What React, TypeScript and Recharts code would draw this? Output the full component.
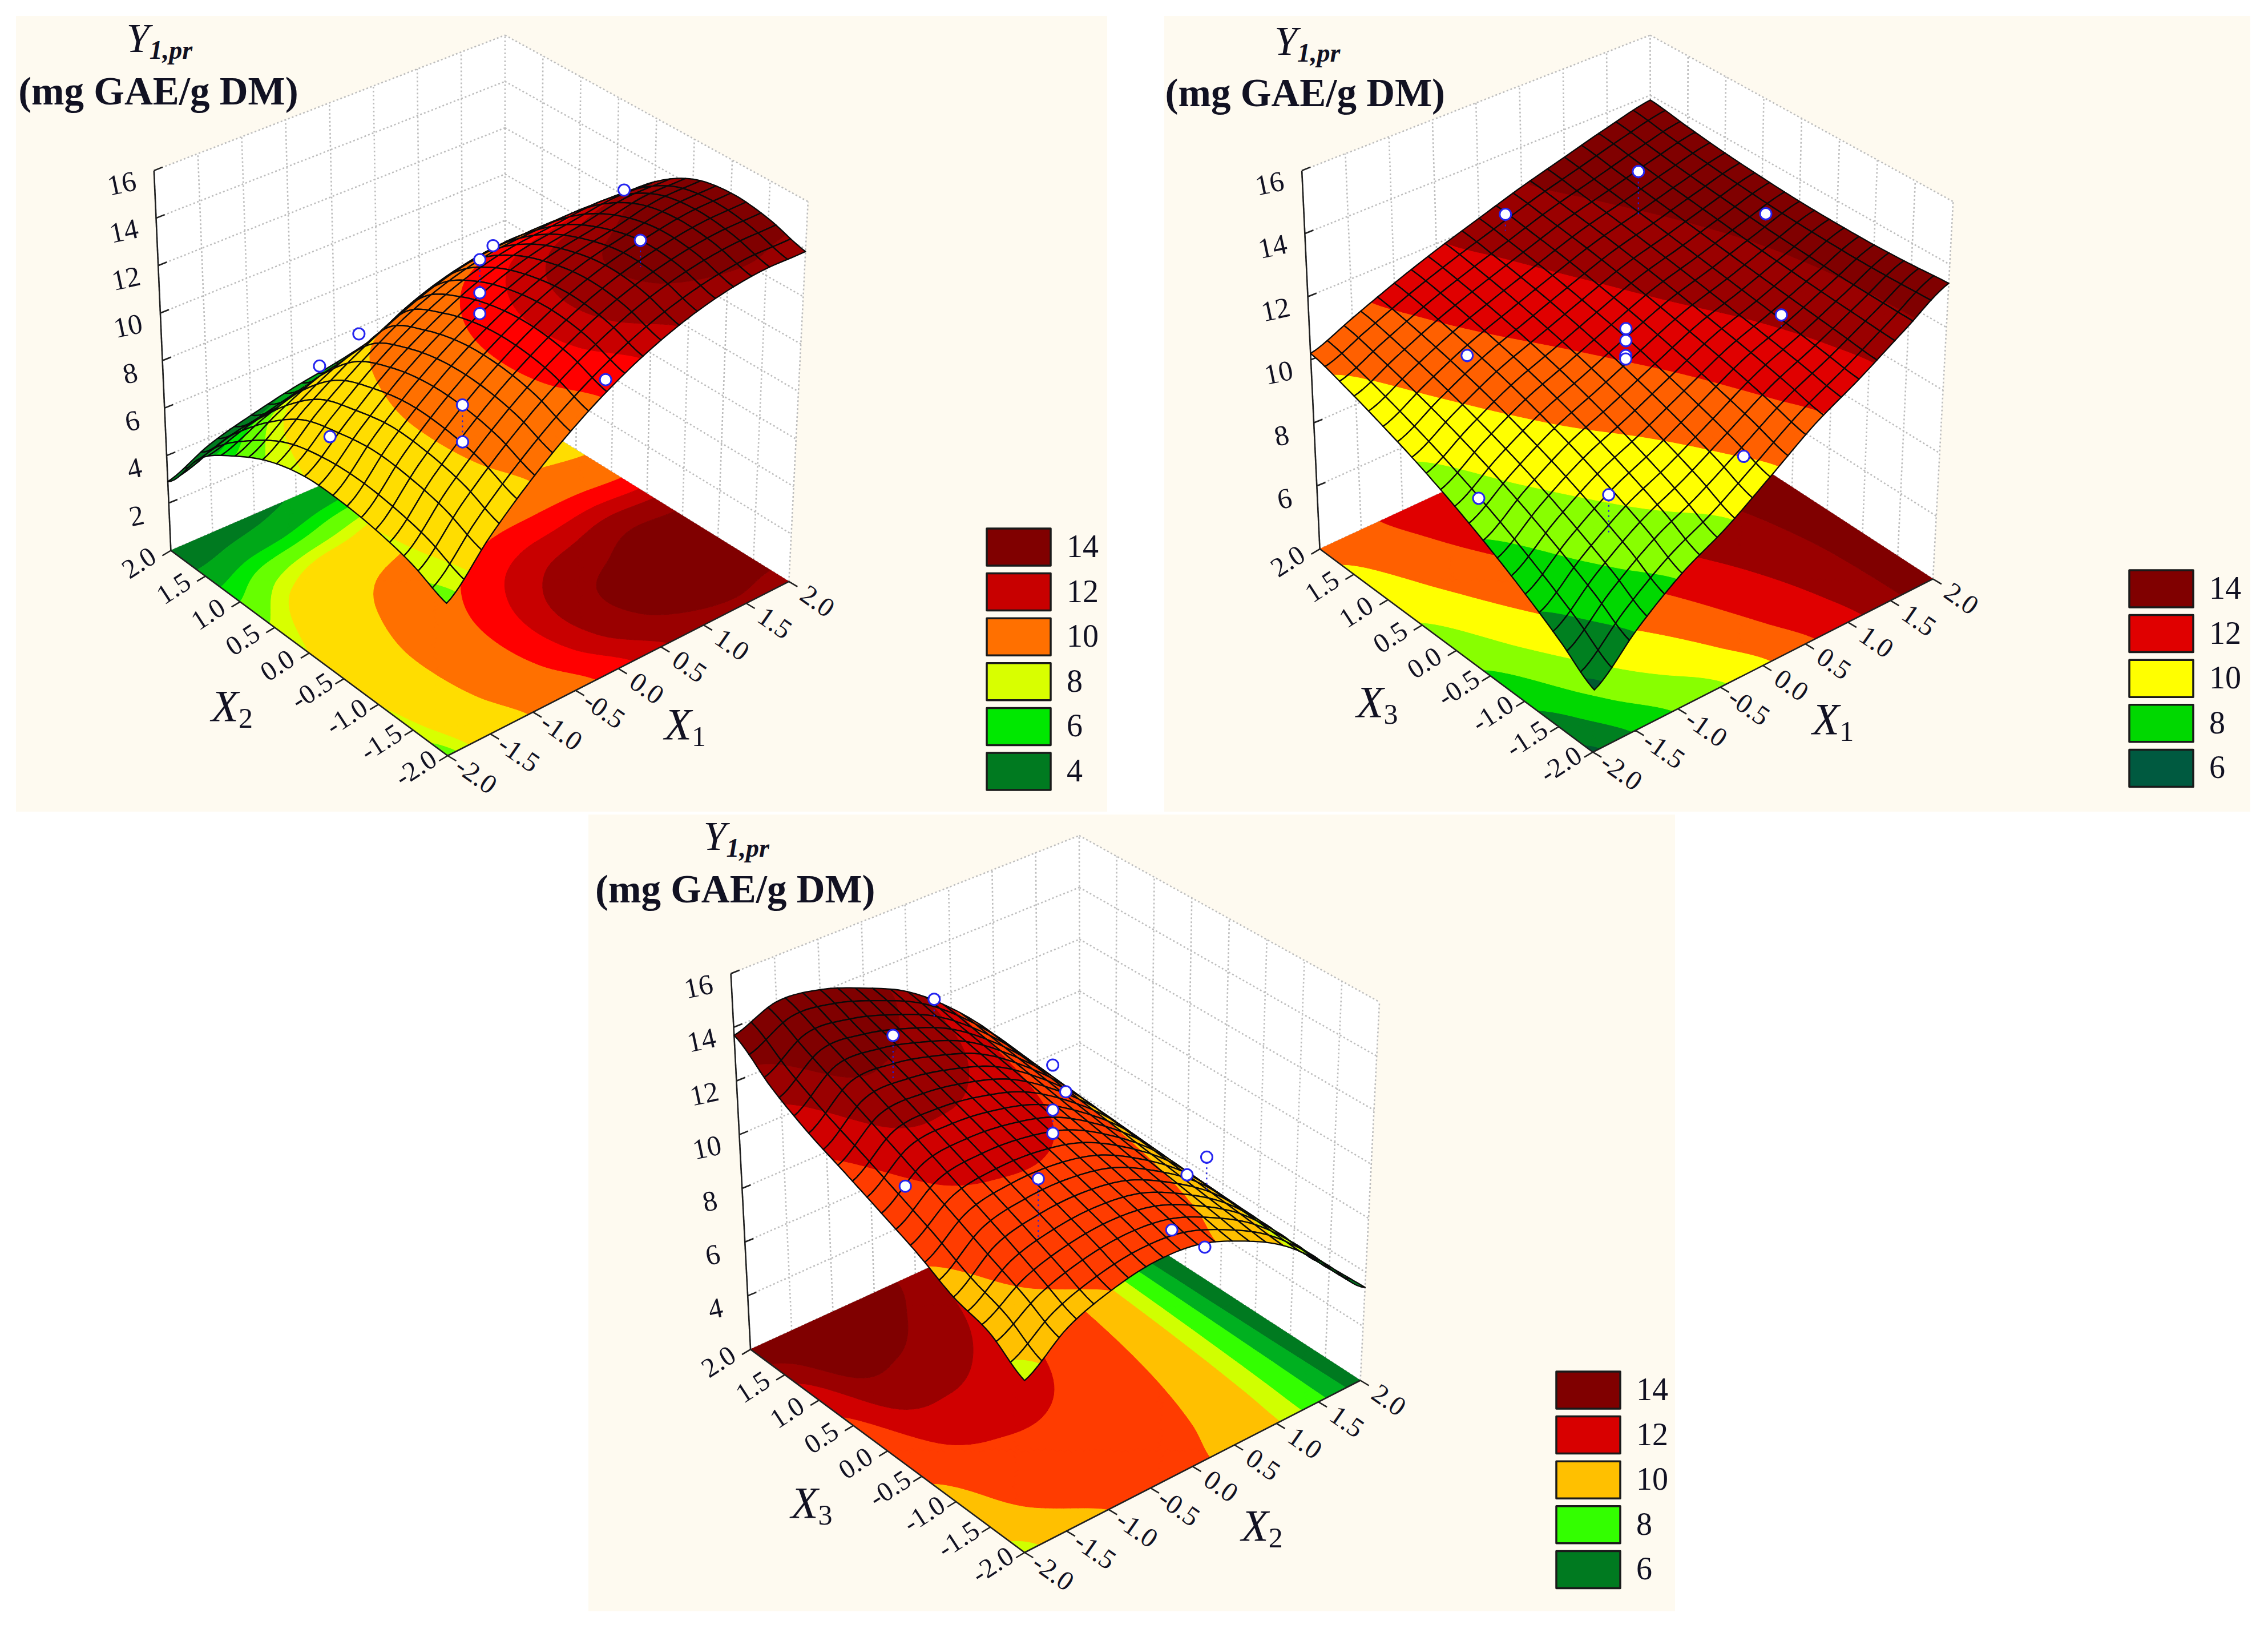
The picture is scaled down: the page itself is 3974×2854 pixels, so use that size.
import React from "react";
import { ScatterChart, Scatter, XAxis, YAxis } from "recharts";

const W = 3974, H = 2854, ZOOM_X = 1500 / 1568, ZOOM_Y = 1420 / 1568, SERIF = "'Liberation Serif'";
const TICK_VALUES = [-2, -1.5, -1, -0.5, 0, 0.5, 1, 1.5, 2];
const TICK_LABELS = ["-2.0", "-1.5", "-1.0", "-0.5", "0.0", "0.5", "1.0", "1.5", "2.0"];

// predicted response, rows = first factor -2..2, columns = second factor -2..2
const Z_X1_X2 = [
  [6.7, 7.3, 7.6, 7.7, 7.6, 7.1, 6.2, 5.0, 2.9],
  [8.65, 9.23, 9.49, 9.5, 9.1, 8.5, 7.2, 5.5, 3.7],
  [10.3, 10.85, 11.08, 11.0, 10.55, 9.7, 8.0, 5.8, 4.2],
  [11.65, 12.18, 12.36, 12.2, 11.65, 10.7, 8.4, 6.3, 4.6],
  [12.7, 13.2, 13.35, 13.1, 12.5, 11.4, 9.3, 6.7, 4.9],
  [13.45, 13.93, 14.04, 13.7, 13.0, 11.8, 9.9, 7.5, 5.3],
  [13.9, 14.35, 14.43, 14.0, 13.2, 11.9, 10.2, 7.9, 5.8],
  [14.05, 14.5, 14.65, 14.35, 13.4, 11.9, 10.05, 8.06, 5.61],
  [13.9, 14.4, 14.6, 14.3, 13.3, 11.7, 9.6, 7.3, 4.8],
];
const Z_X1_X3 = [
  [5.85, 6.57, 7.24, 7.86, 8.43, 8.95, 9.41, 9.84, 10.2],
  [7.08, 7.72, 8.3, 8.84, 9.32, 9.75, 10.13, 10.47, 10.75],
  [8.1, 8.68, 9.2, 9.68, 10.1, 10.48, 10.8, 11.08, 11.3],
  [8.85, 9.38, 9.86, 10.3, 10.69, 11.03, 11.33, 11.59, 11.8],
  [9.8, 10.23, 10.62, 10.98, 11.31, 11.59, 11.85, 12.06, 12.25],
  [10.8, 11.11, 11.4, 11.66, 11.91, 12.14, 12.35, 12.53, 12.7],
  [11.6, 11.79, 11.98, 12.16, 12.35, 12.54, 12.73, 12.91, 13.1],
  [12.5, 12.56, 12.63, 12.73, 12.84, 12.98, 13.13, 13.31, 13.5],
  [13.4, 13.32, 13.27, 13.27, 13.3, 13.38, 13.49, 13.65, 13.84],
];
const Z_X2_X3 = [
  [8.05, 8.9, 9.3, 10.0, 10.6, 11.2, 11.8, 12.6, 13.7],
  [9.2, 9.84, 10.48, 11.11, 11.75, 12.39, 13.03, 13.66, 14.3],
  [9.8, 10.34, 10.88, 11.41, 11.95, 12.49, 13.03, 13.56, 14.1],
  [10.1, 10.53, 10.95, 11.38, 11.8, 12.23, 12.65, 13.08, 13.5],
  [10.0, 10.34, 10.68, 11.01, 11.35, 11.69, 12.03, 12.36, 12.7],
  [9.4, 9.65, 9.9, 10.15, 10.4, 10.65, 10.9, 11.15, 11.4],
  [8.5, 8.65, 8.8, 8.95, 9.1, 9.25, 9.4, 9.55, 9.7],
  [7.1, 7.15, 7.2, 7.25, 7.3, 7.35, 7.4, 7.45, 7.5],
  [5.44, 5.39, 5.33, 5.28, 5.22, 5.17, 5.11, 5.06, 5.0],
];

// contour bands: lower bound of each colour
const BAND_LOWER_1 = [-99, 4.5, 5.6, 6.2, 7.0, 7.6, 10.15, 12.2, 13.0, 13.55, 14.15];
const BAND_COLOR_1 = ["#007A20", "#00A818", "#00E800", "#66FF00", "#D8FF00", "#FFDD00", "#FF7000", "#FF0000", "#C80000", "#9A0000", "#800000"];
const BAND_LOWER_2 = [-99, 6, 7, 8, 9, 10, 11, 11.9, 12.75];
const BAND_COLOR_2 = ["#005A30", "#008020", "#00D800", "#88FF00", "#FFFF00", "#FF6000", "#E00000", "#9A0000", "#800000"];
const BAND_LOWER_3 = [-99, 5.9, 6.8, 7.7, 8.4, 9.8, 11.4, 12.3, 13.1];
const BAND_COLOR_3 = ["#007A20", "#00B020", "#33FF00", "#D0FF00", "#FFC000", "#FF3C00", "#D00000", "#9A0000", "#800000"];

// design points: factor A, factor B, response, end of the dotted drop line
const POINT_A_1 = [1.65, 1.85, 0.17, 0.02, 0.02, 0.02, -1.35, -1.8, 1.48, -0.18, -0.18, -1.7];
const POINT_B_1 = [0, 0, 0, 0, 0, 0, 0, 0, 0, 0, 0, 0];
const POINT_Z_1 = [13.55, 11.06, 13.74, 13.4, 11.98, 11.09, 12.6, 12.0, 5.75, 7.52, 5.94, 8.79];
const POINT_END_1 = [13.55, 9.93, 13.74, 11.98, 11.09, 11.09, 12.6, 12.0, 5.75, 5.94, 5.94, 8.79];
const POINT_A_2 = [0.13, -1.39, 1.61, 1.82, 0, 0, 0, 0, -1.84, 1.41, -1.72, -0.19];
const POINT_B_2 = [0, 0, 0, 0, 0, 0, 0, 0, 0, 0, 0, 0];
const POINT_Z_2 = [16.41, 16.74, 13.36, 9.83, 11.59, 11.21, 10.74, 10.63, 12.88, 5.77, 8.34, 6.58];
const POINT_END_2 = [14.97, 16.23, 13.03, 9.45, 11.21, 10.74, 10.63, 10.63, 12.58, 5.77, 8.34, 5.39];
const POINT_A_3 = [-1.35, -1.82, -0.01, 0.14, -0.01, -0.01, 1.8, 1.57, -1.72, -0.18, 1.4, 1.8];
const POINT_B_3 = [0, 0, 0, 0, 0, 0, 0, 0, 0, 0, 0, 0];
const POINT_Z_3 = [17.5, 16.8, 13.29, 12.1, 11.63, 10.77, 7.29, 6.96, 11.2, 9.33, 5.14, 3.9];
const POINT_END_3 = [16.85, 15.2, 13.29, 12.1, 10.77, 10.77, 5.98, 6.96, 11.2, 7.1, 5.14, 3.9];

const LEGEND_LABELS_1 = ["14", "12", "10", "8", "6", "4"];
const LEGEND_COLORS_1 = ["#800000", "#C80000", "#FF7000", "#D8FF00", "#00E800", "#007A20"];
const LEGEND_LABELS_2 = ["14", "12", "10", "8", "6"];
const LEGEND_COLORS_2 = ["#800000", "#E00000", "#FFFF00", "#00D800", "#005A40"];
const LEGEND_LABELS_3 = ["14", "12", "10", "8", "6"];
const LEGEND_COLORS_3 = ["#800000", "#D80000", "#FFC000", "#33FF00", "#007A20"];

const Z_TICKS_1 = [2, 4, 6, 8, 10, 12, 14, 16];
const Z_TICKS_2 = [6, 8, 10, 12, 14, 16];
const Z_TICKS_3 = [4, 6, 8, 10, 12, 14, 16];

type Pt = [number, number];
type PathSpec = { d: string; fill?: string; stroke?: string; sw?: number; dash?: string };
type Seg = { t: string; italic?: boolean; bold?: boolean; size: number; dy?: number };
type TextSpec = { x: number; y: number; rot?: number; anchor?: string; segs: Seg[] };
type Item = { px: number; py: number; paths?: PathSpec[]; texts?: TextSpec[]; circle?: { x: number; y: number } };

const PANELS = [
  {
    origin: [0, 0] as Pt, zMin: 0, zMax: 16, grid: Z_X1_X2, lower: BAND_LOWER_1, colors: BAND_COLOR_1,
    F: [820, 1462] as Pt, R: [1445, 1125] as Pt, L: [313, 1065] as Pt, B: [925, 785] as Pt,
    FT: [815, 758] as Pt, RT: [1480, 390] as Pt, LT: [282, 330] as Pt, BT: [925, 68] as Pt,
    zTicks: Z_TICKS_1, pa: POINT_A_1, pb: POINT_B_1, pz: POINT_Z_1, pe: POINT_END_1,
    nameA: "1", nameB: "2", titleY: [292, 85] as Pt, titleU: [290, 182] as Pt, nameAPos: [1255, 1408] as Pt, nameBPos: [425, 1372] as Pt,
    legLabels: LEGEND_LABELS_1, legColors: LEGEND_COLORS_1, legX: 1729, legY: 926,
  },
  {
    origin: [2040, 0] as Pt, zMin: 4, zMax: 16, grid: Z_X1_X3, lower: BAND_LOWER_2, colors: BAND_COLOR_2,
    F: [785, 1455] as Pt, R: [1408, 1120] as Pt, L: [285, 1062] as Pt, B: [892, 765] as Pt,
    FT: [803, 675] as Pt, RT: [1445, 390] as Pt, LT: [252, 330] as Pt, BT: [890, 68] as Pt,
    zTicks: Z_TICKS_2, pa: POINT_A_2, pb: POINT_B_2, pz: POINT_Z_2, pe: POINT_END_2,
    nameA: "1", nameB: "3", titleY: [262, 90] as Pt, titleU: [258, 185] as Pt, nameAPos: [1225, 1398] as Pt, nameBPos: [390, 1365] as Pt,
    legLabels: LEGEND_LABELS_2, legColors: LEGEND_COLORS_2, legX: 3731, legY: 999,
  },
  {
    origin: [1030, 1425] as Pt, zMin: 2, zMax: 16, grid: Z_X2_X3, lower: BAND_LOWER_3, colors: BAND_COLOR_3,
    F: [800, 1430] as Pt, R: [1415, 1097] as Pt, L: [298, 1037] as Pt, B: [902, 745] as Pt,
    FT: [800, 660] as Pt, RT: [1450, 365] as Pt, LT: [262, 310] as Pt, BT: [900, 43] as Pt,
    zTicks: Z_TICKS_3, pa: POINT_A_3, pb: POINT_B_3, pz: POINT_Z_3, pe: POINT_END_3,
    nameA: "2", nameB: "3", titleY: [272, 55] as Pt, titleU: [270, 152] as Pt, nameAPos: [1235, 1385] as Pt, nameBPos: [410, 1340] as Pt,
    legLabels: LEGEND_LABELS_3, legColors: LEGEND_COLORS_3, legX: 2727, legY: 2403,
  },
];
type Panel = (typeof PANELS)[number];

const BACKDROPS = [
  { left: 28, top: 28, width: 1912, height: 1394 },
  { left: 2040, top: 28, width: 1903, height: 1394 },
  { left: 1031, top: 1427, width: 1904, height: 1396 },
];

const full = (p: Panel, q: Pt): Pt => [p.origin[0] + q[0] * ZOOM_X, p.origin[1] + q[1] * ZOOM_Y];

function project(p: Panel, a: number, b: number, z: number): Pt {
  const u = (a + 2) / 4, v = (b + 2) / 4, w = (z - p.zMin) / (p.zMax - p.zMin);
  const bi = (f: Pt, r: Pt, l: Pt, k: Pt, i: number) =>
    (1 - u) * (1 - v) * f[i] + u * (1 - v) * r[i] + (1 - u) * v * l[i] + u * v * k[i];
  const x = bi(p.F, p.R, p.L, p.B, 0) * (1 - w) + bi(p.FT, p.RT, p.LT, p.BT, 0) * w;
  const y = bi(p.F, p.R, p.L, p.B, 1) * (1 - w) + bi(p.FT, p.RT, p.LT, p.BT, 1) * w;
  return full(p, [x, y]);
}

function spline(p0: number, p1: number, p2: number, p3: number, t: number) {
  return 0.5 * (2 * p1 + (p2 - p0) * t + (2 * p0 - 5 * p1 + 4 * p2 - p3) * t * t + (3 * p1 - p0 - 3 * p2 + p3) * t * t * t);
}
function readZ(g: number[][], a: number, b: number) {
  const fi = (a + 2) * 2, fj = (b + 2) * 2;
  const i = Math.min(Math.floor(fi), 7), j = Math.min(Math.floor(fj), 7);
  const t = fi - i, s = fj - j;
  const c = (n: number) => Math.max(0, Math.min(8, n));
  const row = (r: number) => spline(g[c(r)][c(j - 1)], g[c(r)][c(j)], g[c(r)][c(j + 1)], g[c(r)][c(j + 2)], s);
  return spline(row(i - 1), row(i), row(i + 1), row(i + 2), t);
}

type V = { x: number; y: number; z: number };
function clip(poly: V[], level: number, keepAbove: boolean): V[] {
  const out: V[] = [];
  for (let k = 0; k < poly.length; k++) {
    const m = poly[k], n = poly[(k + 1) % poly.length];
    const mi = keepAbove ? m.z >= level : m.z <= level;
    const ni = keepAbove ? n.z >= level : n.z <= level;
    if (mi) out.push(m);
    if (mi !== ni) {
      const t = (level - m.z) / (n.z - m.z);
      out.push({ x: m.x + (n.x - m.x) * t, y: m.y + (n.y - m.y) * t, z: level });
    }
  }
  return out;
}
const polyD = (q: { x: number; y: number }[]) => "M" + q.map((v) => `${v.x.toFixed(1)} ${v.y.toFixed(1)}`).join("L") + "Z";

function bandsInto(p: Panel, quad: V[], store: Record<number, string[]>) {
  const lo = Math.min(...quad.map((v) => v.z)), hi = Math.max(...quad.map((v) => v.z));
  for (let k = 0; k < p.lower.length; k++) {
    const low = p.lower[k], up = k + 1 < p.lower.length ? p.lower[k + 1] : 99;
    if (hi < low || lo > up) continue;
    let poly = clip(quad, low, true);
    if (poly.length > 2) poly = clip(poly, up, false);
    if (poly.length > 2) (store[k] = store[k] || []).push(polyD(poly));
  }
}
function toPaths(p: Panel, store: Record<number, string[]>): PathSpec[] {
  return Object.keys(store).map((k) => ({ d: store[+k].join(""), fill: p.colors[+k], stroke: p.colors[+k], sw: 1 }));
}

function line(a: Pt, b: Pt) {
  return `M${a[0].toFixed(1)} ${a[1].toFixed(1)}L${b[0].toFixed(1)} ${b[1].toFixed(1)}`;
}

function buildFrame(p: Panel): Item[] {
  const P = (a: number, b: number, z: number) => project(p, a, b, z);
  const wallFill = (pts: Pt[]) => "M" + pts.map((q) => q.join(" ")).join("L") + "Z";
  const paths: PathSpec[] = [
    { d: wallFill([P(-2, 2, p.zMin), P(2, 2, p.zMin), P(2, 2, p.zMax), P(-2, 2, p.zMax)]), fill: "#FFFFFF" },
    { d: wallFill([P(2, 2, p.zMin), P(2, -2, p.zMin), P(2, -2, p.zMax), P(2, 2, p.zMax)]), fill: "#FFFFFF" },
    { d: wallFill([P(-2, -2, p.zMin), P(2, -2, p.zMin), P(2, 2, p.zMin), P(-2, 2, p.zMin)]), fill: "#FFFFFF" },
  ];
  let dots = "";
  TICK_VALUES.forEach((t) => {
    dots += line(P(t, 2, p.zMin), P(t, 2, p.zMax)) + line(P(2, t, p.zMin), P(2, t, p.zMax));
  });
  [p.zMin, ...p.zTicks].forEach((z) => {
    dots += line(P(-2, 2, z), P(2, 2, z)) + line(P(2, 2, z), P(2, -2, z));
  });
  paths.push({ d: dots, stroke: "#BDBDBD", sw: 2.6, dash: "3 4" });
  const store: Record<number, string[]> = {};
  const N = 80;
  for (let i = 0; i < N; i++) for (let j = 0; j < N; j++) {
    const cs: [number, number][] = [[i, j], [i + 1, j], [i + 1, j + 1], [i, j + 1]];
    const quad = cs.map(([m, n]) => {
      const a = -2 + (4 * m) / N, b = -2 + (4 * n) / N;
      const q = P(a, b, p.zMin);
      return { x: q[0], y: q[1], z: readZ(p.grid, a, b) };
    });
    bandsInto(p, quad, store);
  }
  paths.push(...toPaths(p, store));
  // axes
  let ax = line(P(-2, 2, p.zMin), P(-2, 2, p.zMax)) + line(P(-2, 2, p.zMin), P(-2, -2, p.zMin)) + line(P(-2, -2, p.zMin), P(2, -2, p.zMin));
  TICK_VALUES.forEach((t) => {
    const q = P(-2, t, p.zMin), r = P(t, -2, p.zMin);
    ax += line(q, [q[0] - 15, q[1] + 9]) + line(r, [r[0] + 15, r[1] + 9]);
  });
  p.zTicks.forEach((z) => {
    const q = P(-2, 2, z);
    ax += line(q, [q[0] + 15, q[1] - 6]);
  });
  paths.push({ d: ax, stroke: "#202020", sw: 2.6 });
  return [{ px: 100, py: 100, paths }];
}

function buildSurface(p: Panel): Item[] {
  const items: Item[] = [];
  const CELLS = 20, SUB = 4;
  const A = 4 / CELLS, S = A / SUB;
  for (let i = CELLS - 1; i >= 0; i--) for (let j = CELLS - 1; j >= 0; j--) {
    const a0 = -2 + i * A, b0 = -2 + j * A;
    const V = (a: number, b: number): V => {
      const z = readZ(p.grid, a, b);
      const q = project(p, a, b, z);
      return { x: q[0], y: q[1], z };
    };
    const store: Record<number, string[]> = {};
    for (let m = 0; m < SUB; m++) for (let n = 0; n < SUB; n++) {
      const a = a0 + m * S, b = b0 + n * S;
      bandsInto(p, [V(a, b), V(a + S, b), V(a + S, b + S), V(a, b + S)], store);
    }
    const rim: V[] = [];
    for (let m = 0; m < SUB; m++) rim.push(V(a0 + m * S, b0));
    for (let m = 0; m < SUB; m++) rim.push(V(a0 + A, b0 + m * S));
    for (let m = 0; m < SUB; m++) rim.push(V(a0 + A - m * S, b0 + A));
    for (let m = 0; m < SUB; m++) rim.push(V(a0, b0 + A - m * S));
    const paths = toPaths(p, store);
    paths.push({ d: polyD(rim), stroke: "#0A0A0A", sw: 2.3 });
    items.push({ px: Math.round(rim[0].x), py: Math.round(rim[0].y), paths });
  }
  return items;
}

function buildPoints(p: Panel): Item[] {
  const items: Item[] = [];
  p.pa.forEach((a, k) => {
    const b = p.pb[k];
    const q = project(p, a, b, p.pz[k]), e = project(p, a, b, p.pe[k]);
    items.push({
      px: Math.round(q[0]), py: Math.round(q[1]),
      paths: [{ d: line([q[0], q[1]], [q[0], e[1]]), stroke: "#2020E0", sw: 2.2, dash: "3 6" }],
      circle: { x: q[0], y: q[1] },
    });
  });
  return items;
}

function buildText(p: Panel): Item[] {
  const texts: TextSpec[] = [];
  const paths: PathSpec[] = [];
  const off = (q: Pt, dx: number, dy: number): Pt => [q[0] + dx, q[1] + dy];
  TICK_VALUES.forEach((t, k) => {
    const q = off(project(p, -2, t, p.zMin), -55, 23);
    texts.push({ x: q[0], y: q[1] + 14, rot: -33, anchor: "middle", segs: [{ t: TICK_LABELS[k], size: 48 }] });
    const r = off(project(p, t, -2, p.zMin), 49, 36);
    texts.push({ x: r[0], y: r[1] + 14, rot: 35, anchor: "middle", segs: [{ t: TICK_LABELS[k], size: 48 }] });
  });
  p.zTicks.forEach((z) => {
    const q = off(project(p, -2, 2, z), -56, 24);
    texts.push({ x: q[0], y: q[1] + 15, rot: -12, anchor: "middle", segs: [{ t: String(z), size: 50 }] });
  });
  const ty = full(p, p.titleY), tu = full(p, p.titleU), na = full(p, p.nameAPos), nb = full(p, p.nameBPos);
  texts.push({ x: ty[0], y: ty[1] + 14, anchor: "middle", segs: [{ t: "Y", italic: true, size: 72 }, { t: "1,pr", italic: true, bold: true, size: 46, dy: 12 }] });
  texts.push({ x: tu[0], y: tu[1] + 18, anchor: "middle", segs: [{ t: "(mg GAE/g DM)", bold: true, size: 69 }] });
  [[na, p.nameA], [nb, p.nameB]].forEach(([c, n]: any) => {
    texts.push({ x: c[0], y: c[1] + 20, anchor: "middle", segs: [{ t: "X", italic: true, size: 78 }, { t: n, size: 50, dy: 12 }] });
  });
  p.legLabels.forEach((label, k) => {
    const y = p.legY + k * 78.6;
    paths.push({ d: `M${p.legX} ${y}h112v65h-112Z`, fill: p.legColors[k], stroke: "#1A1A1A", sw: 3.5 });
    texts.push({ x: p.legX + 140, y: y + 50, anchor: "start", segs: [{ t: label, size: 56 }] });
  });
  return [{ px: 100, py: 100, texts, paths }];
}

const FRAME_ITEMS = PANELS.map(buildFrame);
const SURFACE_ITEMS = PANELS.map(buildSurface);
const POINT_ITEMS = PANELS.map(buildPoints);
const TEXT_ITEMS = PANELS.map(buildText);

function Mark(props: any) {
  const d: Item = props.payload;
  return (
    <g transform={`translate(${props.cx - d.px} ${props.cy - d.py})`}>
      {(d.paths || []).map((s, i) => (
        <path key={i} d={s.d} fill={s.fill || "none"} stroke={s.stroke || "none"} strokeWidth={s.sw} strokeDasharray={s.dash} strokeLinejoin="round" />
      ))}
      {d.circle && <circle cx={d.circle.x} cy={d.circle.y} r={10} fill="#FFFFFF" stroke="#2424F0" strokeWidth={3} />}
      {(d.texts || []).map((t, i) => (
        <text key={i} x={t.x} y={t.y} textAnchor={t.anchor as any} fontFamily={SERIF} fill="#111122" transform={t.rot ? `rotate(${t.rot} ${t.x} ${t.y - 14})` : undefined}>
          {t.segs.map((s, j) => (
            <tspan key={j} fontSize={s.size} fontStyle={s.italic ? "italic" : "normal"} fontWeight={s.bold ? 700 : 400} dy={s.dy || 0}>{s.t}</tspan>
          ))}
        </text>
      ))}
    </g>
  );
}

export default function App() {
  return (
    <div style={{ position: "absolute", left: 0, top: 0, width: W, height: H, background: "#FFFFFF" }}>
      {BACKDROPS.map((b, i) => (
        <div key={i} style={{ position: "absolute", ...b, background: "#FEFAF0" }} />
      ))}
      <div style={{ position: "absolute", left: 0, top: 0 }}>
        <ScatterChart width={W} height={H} margin={{ top: 0, right: 0, bottom: 0, left: 0 }}>
          <XAxis type="number" dataKey="px" domain={[0, W]} hide />
          <YAxis type="number" dataKey="py" domain={[0, H]} reversed hide />
          {PANELS.map((_, i) => (
            <Scatter key={`frame${i}`} name={`frame${i}`} data={FRAME_ITEMS[i]} shape={Mark} isAnimationActive={false} />
          ))}
          {PANELS.map((_, i) => (
            <Scatter key={`surface${i}`} name={`surface${i}`} data={SURFACE_ITEMS[i]} shape={Mark} isAnimationActive={false} />
          ))}
          {PANELS.map((_, i) => (
            <Scatter key={`points${i}`} name={`points${i}`} data={POINT_ITEMS[i]} shape={Mark} isAnimationActive={false} />
          ))}
          {PANELS.map((_, i) => (
            <Scatter key={`text${i}`} name={`text${i}`} data={TEXT_ITEMS[i]} shape={Mark} isAnimationActive={false} />
          ))}
        </ScatterChart>
      </div>
    </div>
  );
}
